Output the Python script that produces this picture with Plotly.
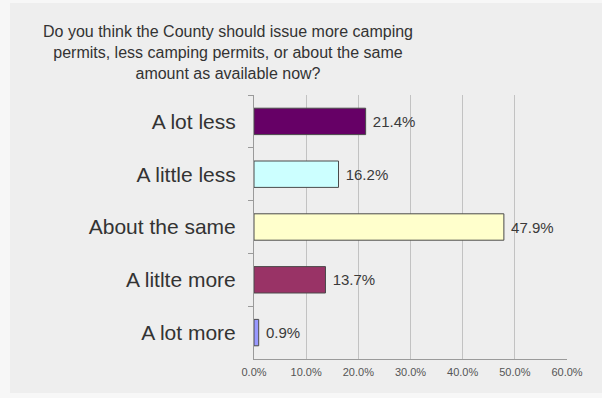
import plotly.graph_objects as go

categories = ["A lot less", "A little less", "About the same", "A litlte more", "A lot more"]
values = [21.4, 16.2, 47.9, 13.7, 0.9]
colors = ["#660066", "#ccffff", "#ffffcc", "#993366", "#9999ff"]
tick_vals = [0, 10, 20, 30, 40, 50, 60]
tick_labels = ["0.0%", "10.0%", "20.0%", "30.0%", "40.0%", "50.0%", "60.0%"]
title_text = "Do you think the County should issue more camping<br>permits, less camping permits, or about the same<br>amount as available now?"

W, H = 602, 398
ml, mr, mt, mb = 254, 35, 95, 39
pw, ph = W - ml - mr, H - mt - mb

def px_x(p):
    return (p - ml) / pw

def px_y(p):
    return (H - mb - p) / ph

fig = go.Figure()
fig.add_trace(go.Bar(
    y=categories, x=values, orientation="h",
    marker=dict(color=colors, line=dict(color="#4a4a4a", width=1)),
    width=0.5,
    text=[f" {v:.1f}%" for v in values],
    textposition="outside",
    textfont=dict(family="Liberation Sans, Arial", size=15, color="#3a3a3a"),
    cliponaxis=False,
))

fig.update_layout(
    width=W, height=H,
    margin=dict(l=ml, r=mr, t=mt, b=mb, autoexpand=False),
    paper_bgcolor="#f7f7f7",
    plot_bgcolor="rgba(0,0,0,0)",
    showlegend=False,
    font=dict(family="Liberation Sans, Arial", color="#333333"),
    shapes=[dict(type="rect", xref="paper", yref="paper",
                 x0=px_x(10), x1=px_x(602), y0=px_y(393), y1=px_y(3),
                 fillcolor="#eeeeee", line=dict(width=0), layer="below")],
    annotations=[dict(text=title_text, xref="paper", yref="paper",
                      x=px_x(228), y=px_y(21), xanchor="center", yanchor="top",
                      showarrow=False, align="center",
                      font=dict(family="Liberation Sans, Arial", size=16, color="#333333"))],
)
fig.update_xaxes(
    range=[0, 60], tickvals=tick_vals, ticktext=tick_labels,
    showgrid=True, gridcolor="#c2c2c2", gridwidth=1,
    showline=True, linecolor="#9a9a9a", linewidth=1,
    tickfont=dict(size=11, color="#555555"), zeroline=False, ticks="",
    ticklabelstandoff=3,
)
fig.update_yaxes(
    autorange="reversed", showline=True, linecolor="#9a9a9a", linewidth=1,
    ticks="outside", tickson="boundaries", ticklen=5, tickcolor="#9a9a9a",
    tickfont=dict(size=21, color="#333333"), ticklabelstandoff=13, showgrid=False,
)

fig.write_html("out.html", config={"displayModeBar": False},
               post_script="document.body.style.margin='0px';document.body.style.overflow='hidden';")
